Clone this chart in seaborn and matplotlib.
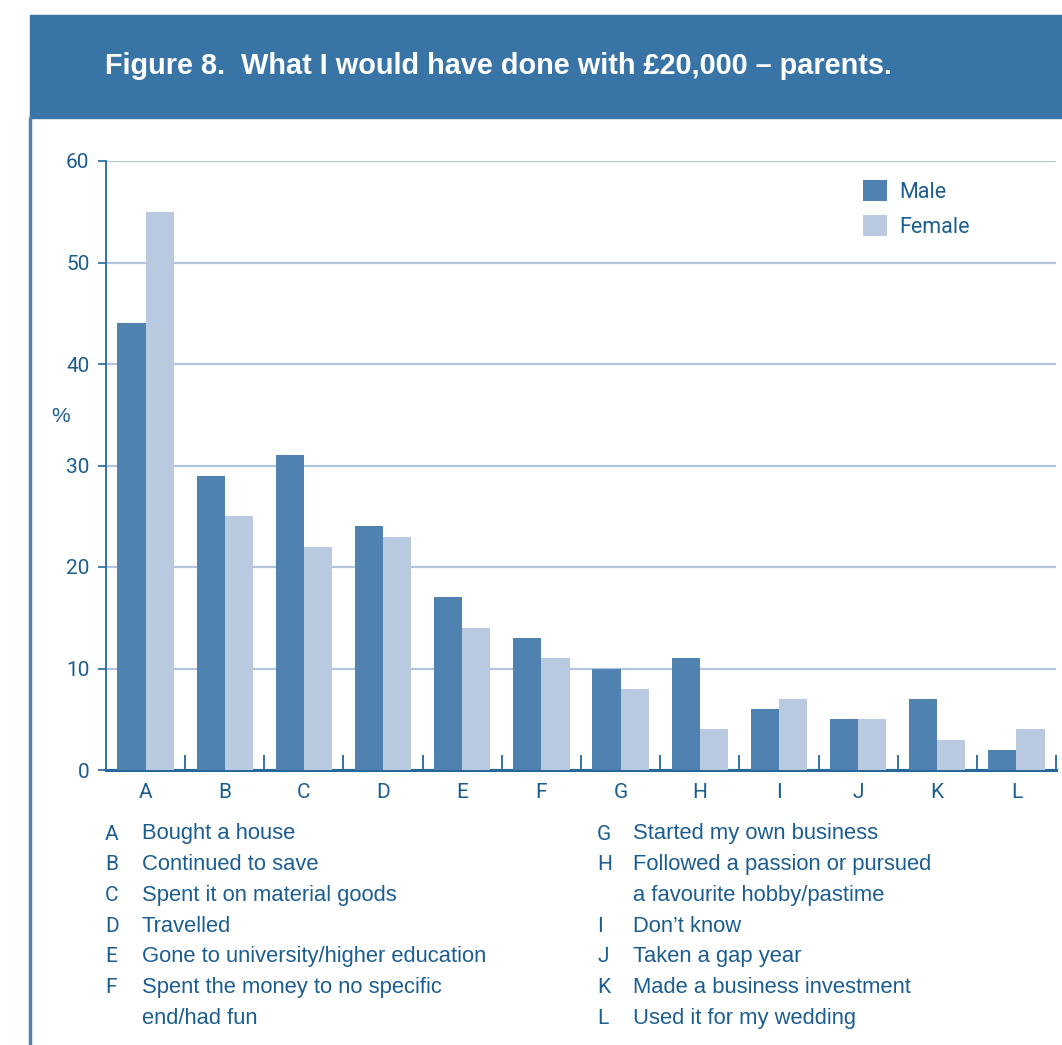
import matplotlib
matplotlib.use("Agg")
import matplotlib.pyplot as plt
from matplotlib import font_manager
from matplotlib.patches import Rectangle
from matplotlib.lines import Line2D
import seaborn as sns
import pandas as pd

# Survey results (%), by category code
codes = ["A", "B", "C", "D", "E", "F", "G", "H", "I", "J", "K", "L"]
male = [44, 29, 31, 24, 17, 13, 10, 11, 6, 5, 7, 2]
female = [55, 25, 22, 23, 14, 11, 8, 4, 7, 5, 3, 4]
descriptions = [
    "Bought a house",
    "Continued to save",
    "Spent it on material goods",
    "Travelled",
    "Gone to university/higher education",
    "Spent the money to no specific\nend/had fun",
    "Started my own business",
    "Followed a passion or pursued\na favourite hobby/pastime",
    "Don\u2019t know",
    "Taken a gap year",
    "Made a business investment",
    "Used it for my wedding",
]
title = "Figure 8.  What I would have done with \u00a320,000 \u2013 parents."

df = pd.DataFrame({
    "code": codes * 2,
    "pct": male + female,
    "sex": ["Male"] * len(codes) + ["Female"] * len(codes),
})

available = {f.name for f in font_manager.fontManager.ttflist}
narrow = "Liberation Sans Narrow" if "Liberation Sans Narrow" in available else "Roboto"
body = "Liberation Sans"

sns.set_theme(style="white")
plt.rcParams["font.family"] = [body, "DejaVu Sans"]

TEXT = "#1c5d91"
HEADER = "#3874a6"
MALE_C = "#4f82b1"
FEMALE_C = "#b9c9e0"
GRID = "#b3c5de"
AXIS = "#25689c"

W, H = 1062, 1045
fig = plt.figure(figsize=(W / 100, H / 100), dpi=100)

# header band and left rule
fig.patches.append(Rectangle((30 / W, 1 - 118 / H), 1 - 30 / W, 103 / H,
                             transform=fig.transFigure, color=HEADER, zorder=0))
fig.lines.append(Line2D([30 / W, 30 / W], [0, 1 - 118 / H], transform=fig.transFigure,
                        color=MALE_C, lw=2.5))
fig.text(105 / W, 1 - 66 / H, title, color="white", fontsize=20.8, fontweight="bold",
         va="center", ha="left", family=[body, "DejaVu Sans"])

ax = fig.add_axes([106 / W, 1 - 770 / H, 950 / W, 609 / H])
sns.barplot(data=df, x="code", y="pct", hue="sex", palette=[MALE_C, FEMALE_C],
            width=0.71, linewidth=0, saturation=1, ax=ax, zorder=3)

ax.set_xlim(-0.5, len(codes) - 0.5)
ax.set_ylim(0, 60)
ax.set_yticks(range(0, 61, 10))
ax.yaxis.grid(True, color=GRID, lw=1.6, zorder=0)
ax.set_axisbelow(True)
ax.set_xlabel("")
ax.set_ylabel("%", rotation=0, color=TEXT, fontsize=15, family=[body], va="center")
ax.yaxis.set_label_coords(-0.048, 0.58)

for s in ["top", "right"]:
    ax.spines[s].set_visible(False)
ax.spines["left"].set_color(AXIS)
ax.spines["left"].set_linewidth(1.3)
ax.spines["bottom"].set_color(AXIS)
ax.spines["bottom"].set_linewidth(2.2)

ax.tick_params(axis="y", left=True, length=6, width=1.2, color=AXIS, labelcolor=TEXT,
               labelsize=15, pad=6)
ax.tick_params(axis="x", bottom=False, labelcolor=TEXT, labelsize=15, pad=3)
ax.set_xticks(range(len(codes)), minor=False)
ax.set_xticks([i + 0.5 for i in range(len(codes))], minor=True)
ax.tick_params(axis="x", which="minor", bottom=True, direction="in", length=11,
               width=1.3, color=AXIS)
for lab in ax.get_xticklabels() + ax.get_yticklabels():
    lab.set_family([narrow, "DejaVu Sans"])

leg = ax.legend(loc="upper right", bbox_to_anchor=(0.93, 1.0), frameon=False,
                fontsize=15.5, handlelength=1.1, handleheight=1.1, handletextpad=0.6,
                labelspacing=0.55)
for t in leg.get_texts():
    t.set_color(TEXT)
    t.set_family([narrow, "DejaVu Sans"])

# key of category codes below the chart
row = 30.7
KEY_SIZE = 15.8


def key_column(x_code, x_desc, y0, items):
    y = y0
    for code, desc in items:
        fig.text(x_code / W, 1 - y / H, code, color=TEXT, fontsize=15, va="center",
                 family=[narrow, "DejaVu Sans"])
        lines = desc.split("\n")
        for j, ln in enumerate(lines):
            fig.text(x_desc / W, 1 - (y + j * row) / H, ln, color=TEXT, fontsize=KEY_SIZE,
                     va="center", family=[body, "DejaVu Sans"])
        y += row * len(lines)


pairs = list(zip(codes, descriptions))
key_column(105, 142, 834, pairs[:6])
key_column(597, 633, 834, pairs[6:])

fig.savefig("out.png", dpi=100)
